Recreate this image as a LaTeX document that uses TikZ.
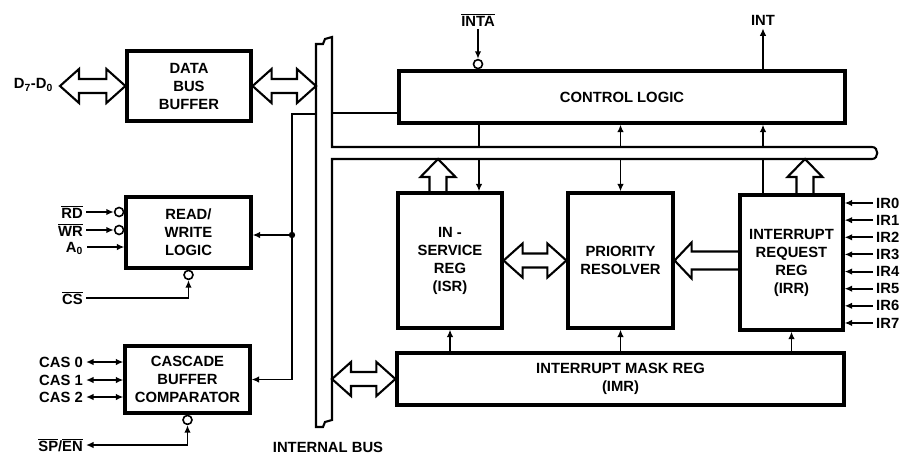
\documentclass[tikz,border=0pt]{standalone}
\usepackage{fontspec}
\setmainfont{Liberation Sans}
\usetikzlibrary{arrows.meta,calc}

% frecce cave
\newcommand{\frecciadoppia}[2]{%
  \draw[cava] let \p1=(#1), \p2=(#2) in
    (\x1,\y2) -- (\x1+19pt,\y2+17pt) -- (\x1+19pt,\y2+7pt) -- (\x2-19pt,\y2+7pt)
    -- (\x2-19pt,\y2+17pt) -- (\x2,\y2) -- (\x2-19pt,\y2-17pt) -- (\x2-19pt,\y2-7pt)
    -- (\x1+19pt,\y2-7pt) -- (\x1+19pt,\y2-17pt) -- cycle;}
\newcommand{\frecciasu}[2]{%
  \draw[cava] let \p1=(#1), \p2=(#2) in
    (\x1-8.5pt,\y1) -- (\x1-8.5pt,\y2-18pt) -- (\x1-17.5pt,\y2-18pt) -- (\x1,\y2)
    -- (\x1+17.5pt,\y2-18pt) -- (\x1+8.5pt,\y2-18pt) -- (\x1+8.5pt,\y1);}
\newcommand{\frecciasin}[2]{%
  \draw[cava] let \p1=(#1), \p2=(#2) in
    (\x2,\y1+9pt) -- (\x1+17pt,\y1+9pt) -- (\x1+17pt,\y1+18pt) -- (\x1,\y1)
    -- (\x1+17pt,\y1-18pt) -- (\x1+17pt,\y1-9pt) -- (\x2,\y1-9pt);}

\begin{document}
\begin{tikzpicture}[x=1pt, y=-1pt,
  box/.style={draw=black, line width=3.2pt, align=center, inner sep=0pt,
    font=\fontsize{14.8}{18}\selectfont\bfseries},
  etichetta/.style={inner sep=3pt, font=\fontsize{14.8}{18}\selectfont\bfseries},
  bolla/.style={circle, draw=black, line width=1.6pt, fill=white, minimum size=9pt, inner sep=0pt},
  cavo/.style={line width=1.9pt},
  freccia/.style={line width=1.9pt, -{Latex[length=7.5pt,width=6.5pt]}},
  frecciadue/.style={line width=1.9pt, {Latex[length=7.5pt,width=6.5pt]}-{Latex[length=7.5pt,width=6.5pt]}},
  cava/.style={line width=2.1pt, line join=miter},
  bus/.style={line width=2.1pt}
    ]
    \useasboundingbox (0,0) rectangle (903,458);

    % Blocchi
    \node[box, minimum width=124pt, minimum height=70pt] (dbb) at (189,86) {DATA\\BUS\\BUFFER};
    \node[box, minimum width=125pt, minimum height=71pt] (rwl) at (188.5,232.5) {READ/\\WRITE\\LOGIC};
    \node[box, minimum width=125pt, minimum height=67pt] (cbc) at (187.5,379.5) {CASCADE\\BUFFER\\COMPARATOR};
    \node[box, minimum width=446pt, minimum height=52pt] (ctl) at (622,97) {CONTROL LOGIC};
    \node[box, minimum width=104pt, minimum height=135pt] (isr) at (450,260.5) {IN -\\SERVICE\\REG\\(ISR)};
    \node[box, minimum width=105pt, minimum height=135pt] (pr) at (620.5,260.5) {PRIORITY\\RESOLVER};
    \node[box, minimum width=103pt, minimum height=135pt] (irr) at (791.5,262.5) {INTERRUPT\\REQUEST\\REG\\(IRR)};
    \node[box, minimum width=447pt, minimum height=52pt] (imr) at (620.5,379) {INTERRUPT MASK REG\\(IMR)};

    % Bus interno
    \coordinate (busL) at (316,0);
    \coordinate (busR) at (332,0);
    \coordinate (bussu) at (0,147);
    \coordinate (busgiu) at (0,159);
    \draw[bus] (316,44) -- (316,427) -- (323,427) -- (325,422) -- (332,420) -- (332,159)
      -- (872,159) .. controls (879,159) and (879,147) .. (872,147) -- (332,147)
      -- (332,37) -- (325,39) -- (323,44) -- cycle;
    \draw[bus] (332,113) -- (ctl.west |- 0,113);
    \node[etichetta] (lbus) at (328,447) {INTERNAL BUS};

    % Frecce cave
    \node[etichetta, inner xsep=7pt, anchor=east] (dbus) at (60,85) {D\textsubscript{7}-D\textsubscript{0}};
    \frecciadoppia{dbus.east}{dbb.west}
    \frecciadoppia{dbb.east}{dbb.east -| busL}
    \frecciadoppia{imr.west -| busR}{imr.west}
    \frecciadoppia{isr.east}{pr.west}
    \frecciasin{pr.east}{pr.east -| irr.west}
    \frecciasu{438,0 |- isr.north}{busgiu}
    \frecciasu{805,0 |- irr.north}{busgiu}

    % Segnali di controllo verso i blocchi a sinistra
    \coordinate (nodo) at (292,235);
    \draw[cavo] (316,114) -| (nodo);
    \draw[freccia] (nodo) -- (rwl.east |- nodo);
    \draw[freccia] (nodo) |- (cbc.east);
    \fill (nodo) circle (3.2pt);

    % Ingressi READ/WRITE
    \node[bolla, anchor=east] (brd) at (rwl.west |- 0,212) {};
    \node[bolla, anchor=east] (bwr) at (rwl.west |- 0,230) {};
    \node[etichetta, anchor=east] (rd) at (86,212) {$\overline{\mbox{RD}}$};
    \node[etichetta, anchor=east] (wr) at (86,230) {$\overline{\mbox{WR}}$};
    \draw[freccia] (rd.east) -- (brd.west);
    \draw[freccia] (wr.east) -- (bwr.west);
    \coordinate (a0in) at (87,247);
    \node[etichetta, anchor=base east] (a0) at (86,252) {A\textsubscript{0}};
    \draw[freccia] (a0in) -- (rwl.west |- a0in);
    \node[bolla, anchor=north] (bcs) at (rwl.south) {};
    \node[etichetta, anchor=east] (cs) at (86,298) {$\overline{\mbox{CS}}$};
    \draw[freccia] (cs.east) -| (bcs.south);

    % Cascata
    \foreach \n/\y in {0/362,1/380,2/397} {
      \node[etichetta, anchor=east] (cas\n) at (86,\y) {CAS \n};
      \draw[frecciadue] (cas\n.east) -- (cbc.west |- cas\n.east);
    }
    \node[bolla, anchor=north] (bsp) at (cbc.south) {};
    \node[etichetta, anchor=east] (spen) at (86,445) {$\overline{\mbox{SP}}$/$\overline{\mbox{EN}}$};
    \draw[frecciadue] (spen.east) -| (bsp.south);

    % INTA e INT
    \node[etichetta] (inta) at (478,20) {$\overline{\mbox{INTA}}$};
    \node[bolla, anchor=south] (binta) at (478,0 |- ctl.north) {};
    \draw[freccia] (inta.south) -- (binta.north);
    \node[etichetta] (intu) at (763,20) {INT};
    \draw[freccia] (763,0 |- ctl.north) -- (intu.south);

    % Collegamenti con la logica di controllo
    \draw[cavo] (479,0 |- ctl.south) -- (479,0 |- bussu);
    \draw[freccia] (479,0 |- busgiu) -- (479,0 |- isr.north);
    \draw[freccia] (pr.north |- bussu) -- (pr.north |- ctl.south);
    \draw[freccia] (pr.north |- busgiu) -- (pr.north);
    \draw[freccia] (763,0 |- bussu) -- (763,0 |- ctl.south);
    \draw[cavo] (763,0 |- busgiu) -- (763,0 |- irr.north);

    % Maschera
    \draw[freccia] (isr.south |- imr.north) -- (isr.south);
    \draw[freccia] (pr.south |- imr.north) -- (pr.south);
    \draw[freccia] (irr.south |- imr.north) -- (irr.south);

    % Richieste di interrupt
    \foreach \i in {0,...,7} {
      \pgfmathsetmacro\yy{203+17.14*\i}
      \node[etichetta, anchor=west] (ir\i) at (873,\yy) {IR\i};
      \draw[freccia] (ir\i.west) -- (irr.east |- ir\i.west);
    }
    \end{tikzpicture}
\end{document}
